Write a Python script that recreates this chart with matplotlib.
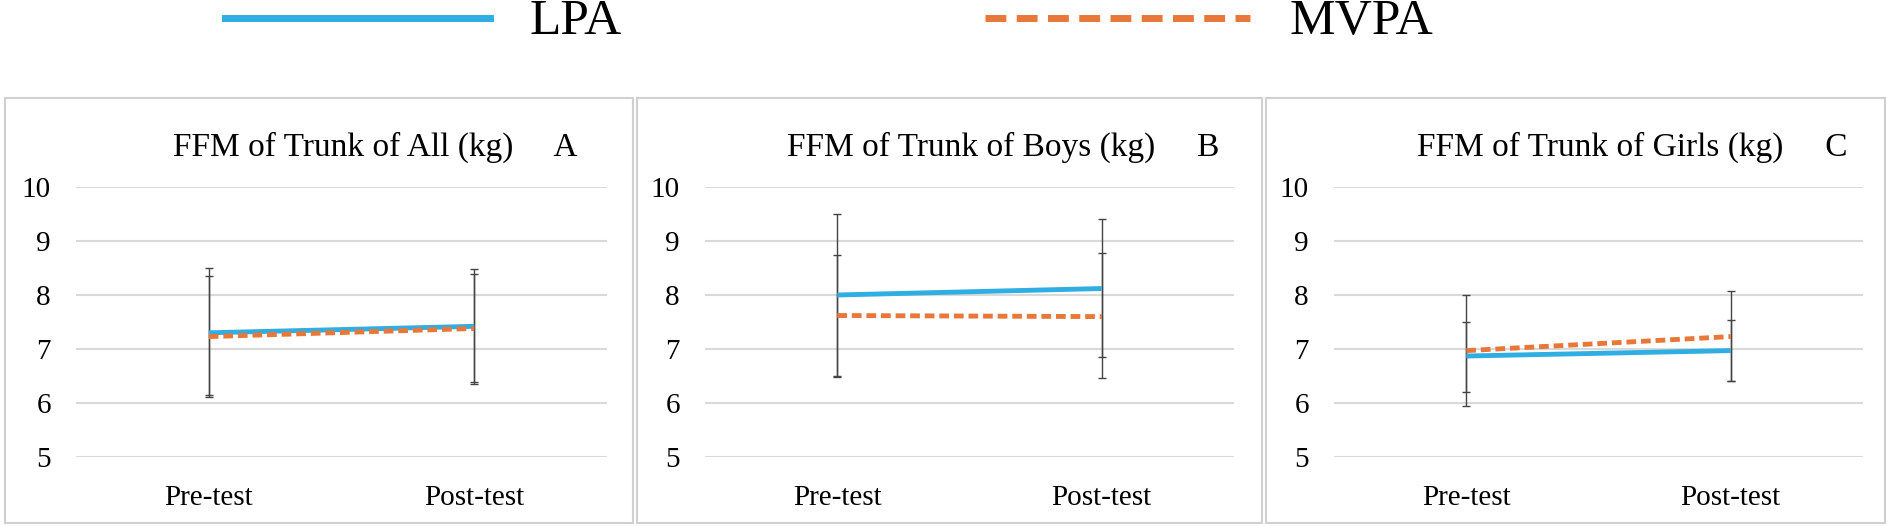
import matplotlib
matplotlib.use("Agg")
import matplotlib.pyplot as plt
from matplotlib.patches import Rectangle
from matplotlib.lines import Line2D

plt.rcParams['font.family'] = ['Liberation Serif', 'DejaVu Serif']

categories = ["Pre-test", "Post-test"]
titles = ["FFM of Trunk of All (kg)", "FFM of Trunk of Boys (kg)", "FFM of Trunk of Girls (kg)"]
letters = ["A", "B", "C"]
lpa = [[7.30, 7.42], [8.00, 8.12], [6.87, 6.97]]
lpa_lo = [[6.12, 6.38], [6.50, 6.85], [6.20, 6.40]]
lpa_hi = [[8.50, 8.48], [9.50, 9.40], [7.50, 7.53]]
mvpa = [[7.23, 7.38], [7.62, 7.60], [6.97, 7.23]]
mvpa_lo = [[6.15, 6.35], [6.48, 6.47], [5.95, 6.40]]
mvpa_hi = [[8.35, 8.38], [8.75, 8.78], [8.00, 8.08]]

W, H = 1890, 526
fig = plt.figure(figsize=(W/100, H/100), dpi=100)
blue = "#2eaee3"
orange = "#e8773a"

panels = [(5, 633), (637, 1262), (1266, 1885)]
axes_x = [(76, 607), (705, 1234), (1334, 1863)]
for i in range(3):
    px0, px1 = panels[i]
    fig.patches.append(Rectangle((px0/W, 3/H), (px1-px0)/W, (526-98-3)/H, transform=fig.transFigure,
                                 fill=False, ec="#d0d0d0", lw=1.5))
    x0, x1 = axes_x[i]
    ax = fig.add_axes([x0/W, (526-457)/H, (x1-x0)/W, (457-187)/H])
    xs = [0, 1]
    ax.plot(xs, lpa[i], color=blue, lw=3.5, zorder=3, solid_capstyle='butt')
    ax.plot(xs, mvpa[i], color=orange, lw=3.5, ls=(0, (2, 1)), zorder=3)
    for vals, lo, hi in [(lpa[i], lpa_lo[i], lpa_hi[i]), (mvpa[i], mvpa_lo[i], mvpa_hi[i])]:
        ax.errorbar(xs, vals, yerr=[[v-l for v, l in zip(vals, lo)], [h-v for v, h in zip(vals, hi)]],
                    fmt='none', ecolor="#444444", elinewidth=1, capsize=3, zorder=2)
    ax.set_xlim(-0.5, 1.5)
    ax.set_ylim(5, 10)
    ax.set_yticks(range(5, 11))
    ax.set_xticks(xs)
    ax.set_xticklabels(categories)
    ax.grid(axis='y', color="#d9d9d9", lw=1.5)
    ax.set_axisbelow(True)
    for s in ax.spines.values():
        s.set_visible(False)
    ax.tick_params(length=0, labelsize=21)
    ax.tick_params(axis='y', pad=18)
    ax.tick_params(axis='x', pad=20)
    fig.text((x0+x1)/2/W + 0.018, 1-147/H, titles[i] + "     " + letters[i],
             ha='center', va='center', fontsize=24)

fig.add_artist(Line2D([225/W, 490/W], [1-18/H, 1-18/H], color=blue, lw=5, transform=fig.transFigure))
fig.text(530/W, 1-22/H, "LPA", fontsize=37, va='center')
fig.add_artist(Line2D([985/W, 1250/W], [1-18/H, 1-18/H], color=orange, lw=5, ls=(0, (3, 1.5)),
                      transform=fig.transFigure))
fig.text(1290/W, 1-22/H, "MVPA", fontsize=37, va='center')

fig.savefig("out.png", dpi=100)
